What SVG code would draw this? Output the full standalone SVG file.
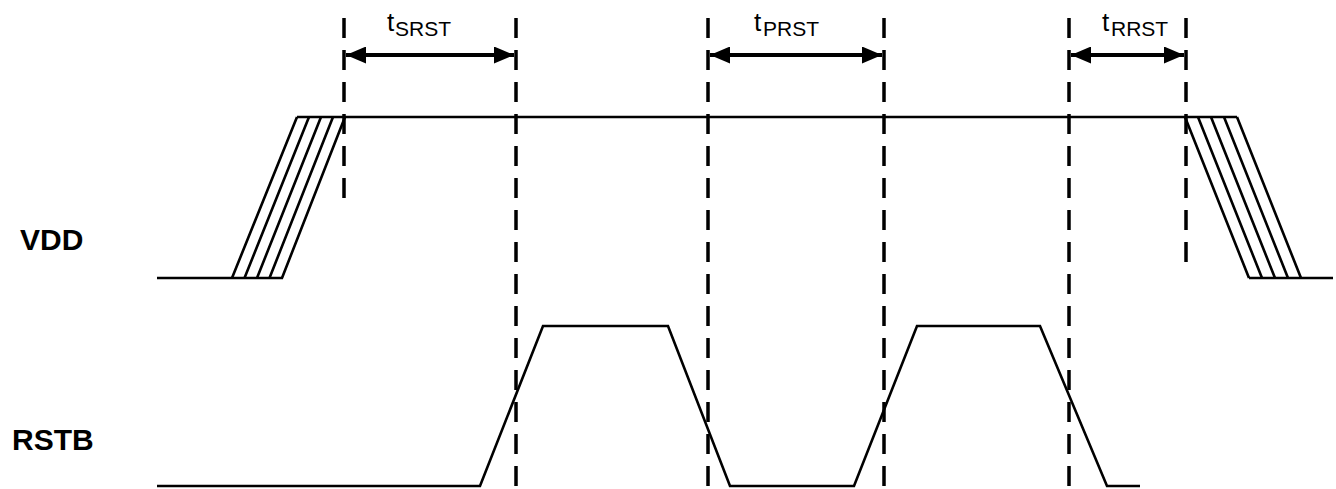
<svg xmlns="http://www.w3.org/2000/svg" width="1336" height="489" viewBox="0 0 1336 489">
<style>
.sig{fill:none;stroke:#000;stroke-width:2.6;stroke-linejoin:miter}
.dash{fill:none;stroke:#000;stroke-width:3.5;stroke-dasharray:20 12}
.dim{fill:none;stroke:#000;stroke-width:4}
.lbl{font-family:"Liberation Sans",Arial,sans-serif;font-weight:bold;font-size:30px;fill:#000}
.t{font-family:"Liberation Sans",Arial,sans-serif;font-size:26px;fill:#000}
.sub{font-family:"Liberation Sans",Arial,sans-serif;font-size:21px;fill:#000}
</style>
<defs>
<marker id="ah" viewBox="0 0 20 17" refX="20" refY="8.5" markerWidth="20" markerHeight="17" markerUnits="userSpaceOnUse" orient="auto-start-reverse">
<path d="M0,0 L20,8.5 L0,17 Z" fill="#000"/>
</marker>
</defs>
<rect width="1336" height="489" fill="#fff"/>
<g id="label-vdd"><text class="lbl" x="20" y="250">VDD</text></g>
<g id="label-rstb"><text class="lbl" x="12" y="450">RSTB</text></g>
<g id="vdd-signal">
<path class="sig" d="M157,278 H283 M297,117 H1237 M1249,278 H1333"/>
<path class="sig" d="M232,278 L297,117 M244.5,278 L309,117 M257,278 L321,117 M269.5,278 L333,117 M282,278 L345,117"/>
<path class="sig" d="M1185,117 L1249,278 M1198,117 L1262,278 M1211,117 L1275,278 M1224,117 L1288,278 M1237,117 L1301,278"/>
</g>
<g id="rstb-signal">
<path class="sig" d="M157,486 H480 L543,326 H668 L730,486 H854 L917,326 H1040 L1107,486 H1140"/>
</g>
<g id="connectors">
<path class="dash" d="M344,18 V199"/>
<path class="dash" d="M516,18 V489"/>
<path class="dash" d="M708,18 V489"/>
<path class="dash" d="M884,18 V489"/>
<path class="dash" d="M1069,18 V489"/>
<path class="dash" d="M1186,18 V264"/>
<line class="dim" x1="346" y1="55" x2="514" y2="55" marker-start="url(#ah)" marker-end="url(#ah)"/>
<line class="dim" x1="710" y1="55" x2="882" y2="55" marker-start="url(#ah)" marker-end="url(#ah)"/>
<line class="dim" x1="1071" y1="55" x2="1184" y2="55" marker-start="url(#ah)" marker-end="url(#ah)"/>
</g>
<g id="label-tsrst"><text class="t" x="387" y="31">t</text><text class="sub" x="395" y="36">SRST</text></g>
<g id="label-tprst"><text class="t" x="754" y="31">t</text><text class="sub" x="763" y="36">PRST</text></g>
<g id="label-trrst"><text class="t" x="1102" y="31">t</text><text class="sub" x="1111" y="36">RRST</text></g>
</svg>
